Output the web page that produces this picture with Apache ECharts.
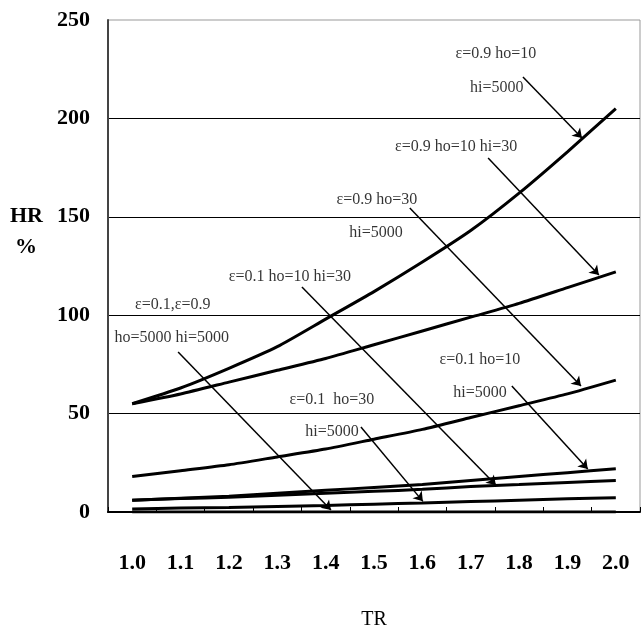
<!DOCTYPE html>
<html>
<head>
<meta charset="utf-8">
<script src="https://cdn.jsdelivr.net/npm/echarts@6/dist/echarts.min.js"></script>
<style>
html, body { margin: 0; padding: 0; background: #fff; }
#main { width: 644px; height: 630px; }
</style>
</head>
<body>
<div id="main"></div>
<script>
// TR categories
var trLabels = ['1.0', '1.1', '1.2', '1.3', '1.4', '1.5', '1.6', '1.7', '1.8', '1.9', '2.0'];

// HR % for each curve
var hrA = [55, 63, 73, 84, 98, 112, 127, 143, 162, 183, 205];      // e=0.9 ho=10 hi=5000
var hrB = [55, 60, 66, 72, 78, 85, 92, 99, 106, 114, 122];         // e=0.9 ho=10 hi=30
var hrC = [18, 21, 24, 28, 32, 37, 42, 48, 54, 60, 67];            // e=0.9 ho=30 hi=5000
var hrD = [6, 7, 8, 9.5, 11, 12.5, 14, 16, 18, 20, 22];            // e=0.1 ho=10 hi=5000
var hrE = [6, 6.8, 7.5, 8.5, 9.5, 10.5, 11.5, 13, 14, 15, 16];     // e=0.1 ho=10 hi=30
var hrF = [1.5, 2, 2.3, 2.8, 3.3, 4, 4.6, 5.3, 6, 6.7, 7.3];       // e=0.1 ho=30 hi=5000
var hrG = [0, 0, 0, 0, 0, 0, 0, 0, 0, 0, 0];                        // ho=5000 hi=5000

var yTicks = [0, 50, 100, 150, 200, 250];

// annotation texts, placed in (TR, HR) units
var annoText = ['ε=0.9 ho=10', 'hi=5000', 'ε=0.9 ho=10 hi=30', 'ε=0.9 ho=30', 'hi=5000',
    'ε=0.1 ho=10 hi=30', 'ε=0.1,ε=0.9', 'ho=5000 hi=5000', 'ε=0.1 ho=10', 'hi=5000',
    'ε=0.1  ho=30', 'hi=5000'];
var annoTR = [1.752, 1.754, 1.670, 1.506, 1.504, 1.326, 1.084, 1.082, 1.719, 1.719, 1.413, 1.413];
var annoHR = [232.7, 215.4, 185.5, 158.5, 141.8, 119.4, 105.2, 88.4, 77.2, 60.5, 56.9, 40.7];

// arrows: from (TR, HR) to (TR, HR)
var arrowFromTR = [1.808, 1.736, 1.574, 1.351, 1.095, 1.785, 1.473];
var arrowFromHR = [221.0, 179.9, 154.5, 114.3, 81.3, 64.0, 43.2];
var arrowToTR = [1.930, 1.965, 1.928, 1.752, 1.411, 1.942, 1.601];
var arrowToHR = [190.0, 120.4, 64.0, 13.7, 1.0, 21.8, 5.4];

var chart = echarts.init(document.getElementById('main'));

var fontSerif = '"Liberation Serif", "Times New Roman", serif';

function curve(name, data) {
    return {
        name: name,
        type: 'line',
        data: data,
        showSymbol: false,
        symbol: 'none',
        smooth: 0.2,
        lineStyle: { color: '#000', width: 3 },
        z: 3
    };
}

var annoData = [];
for (var i = 0; i < annoText.length; i++) {
    annoData.push({ value: [annoTR[i], annoHR[i]], name: annoText[i] });
}

var arrows = [];
for (var j = 0; j < arrowFromTR.length; j++) {
    arrows.push([
        { coord: [arrowFromTR[j], arrowFromHR[j]] },
        { coord: [arrowToTR[j], arrowToHR[j]] }
    ]);
}

var series = [
    curve('A', hrA), curve('B', hrB), curve('C', hrC), curve('D', hrD),
    curve('E', hrE), curve('F', hrF), curve('G', hrG),
    {
        type: 'scatter',
        xAxisIndex: 1,
        yAxisIndex: 0,
        data: annoData,
        symbolSize: 1,
        itemStyle: { color: 'rgba(0,0,0,0)' },
        label: {
            show: true,
            position: 'inside',
            formatter: function (p) { return p.name; },
            color: '#000',
            fontFamily: fontSerif,
            fontSize: 16
        },
        silent: true,
        z: 4,
        markLine: {
            silent: true,
            symbol: ['none', 'arrow'],
            symbolSize: 9,
            label: { show: false },
            lineStyle: { color: '#000', width: 1.5, type: 'solid' },
            itemStyle: { color: '#000' },
            data: arrows
        }
    }
];

var option = {
    animation: false,
    backgroundColor: '#fff',
    grid: {
        left: 108,
        right: 4,
        top: 20,
        bottom: 118,
        outerBoundsMode: 'none',
        show: true,
        borderColor: '#999',
        borderWidth: 1
    },
    graphic: [
        { type: 'text', left: 10, top: 205, style: { text: 'HR', font: 'bold 22px ' + fontSerif, fill: '#000' } },
        { type: 'text', left: 15, top: 236, style: { text: '%', font: 'bold 22px ' + fontSerif, fill: '#000' } }
    ],
    xAxis: [{
        type: 'category',
        data: trLabels,
        boundaryGap: true,
        name: 'TR',
        nameLocation: 'middle',
        nameGap: 98,
        nameTextStyle: { color: '#000', fontFamily: fontSerif, fontSize: 20 },
        axisLine: { lineStyle: { color: '#000', width: 2 } },
        axisTick: { show: true, inside: true, length: 5, interval: 0, lineStyle: { color: '#000' } },
        axisLabel: {
            margin: 40,
            interval: 0,
            color: '#000',
            fontFamily: fontSerif,
            fontWeight: 'bold',
            fontSize: 22
        },
        splitLine: { show: false }
    }, {
        type: 'value',
        min: 0.95,
        max: 2.05,
        show: false
    }],
    yAxis: {
        type: 'value',
        min: yTicks[0],
        max: yTicks[yTicks.length - 1],
        interval: 50,
        axisLine: { show: true, lineStyle: { color: '#444', width: 2 } },
        axisTick: { show: false },
        axisLabel: {
            margin: 18,
            color: '#000',
            fontFamily: fontSerif,
            fontWeight: 'bold',
            fontSize: 22
        },
        splitLine: { show: true, showMaxLine: false, lineStyle: { color: '#000', width: 1 } }
    },
    series: series
};

chart.setOption(option);
</script>
</body>
</html>
